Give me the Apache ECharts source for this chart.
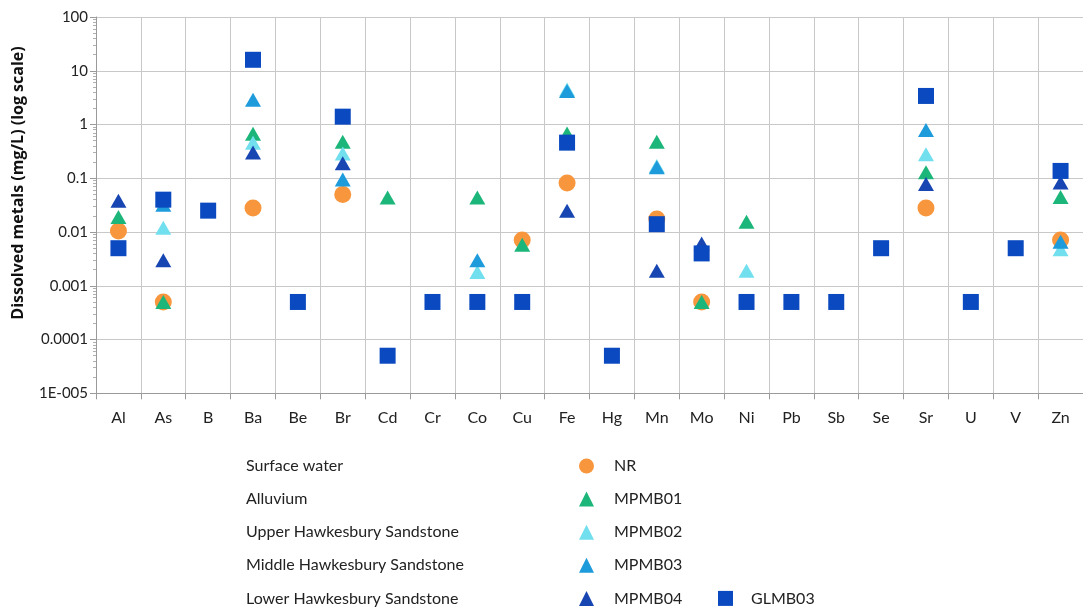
<!DOCTYPE html>
<html><head><meta charset="utf-8">
<script src="https://cdn.jsdelivr.net/npm/echarts@6/dist/echarts.min.js"></script>
<style>html,body{margin:0;padding:0;background:#fff;}#c{width:1083px;height:612px;}</style>
</head><body><div id="c"></div>
<script>
const categories = ['Al','As','B','Ba','Be','Br','Cd','Cr','Co','Cu','Fe','Hg','Mn','Mo','Ni','Pb','Sb','Se','Sr','U','V','Zn'];
const yTickLabels = ['1E-005','0.0001','0.001','0.01','0.1','1','10','100'];
const seriesNames = ['NR','MPMB01','MPMB02','MPMB03','MPMB04','GLMB03'];
const groupNames = ['Surface water','Alluvium','Upper Hawkesbury Sandstone','Middle Hawkesbury Sandstone','Lower Hawkesbury Sandstone'];
const _ = null;
//                 Al     As      B      Ba    Be      Br     Cd       Cr      Co      Cu      Fe     Hg       Mn      Mo      Ni      Pb      Sb      Se     Sr     U       V      Zn
const NR     = [0.0105, 0.0005, _,     0.028, _,      0.05,  _,       _,      _,      0.0071, 0.082, _,       0.0175, 0.0005, _,      _,      _,      _,     0.028, _,      _,     0.0071];
const MPMB01 = [0.019,  0.0005, _,     0.67,  _,      0.48,  0.044,   _,      0.044,  0.0058, 0.68,  _,       0.48,   0.0005, 0.0155, _,      _,      _,     0.13,  _,      _,     0.045];
const MPMB02 = [_,      0.012,  _,     0.46,  _,      0.29,  _,       _,      0.0018, _,      4.5,   _,       0.17,   _,      0.0019, _,      _,      _,     0.28,  _,      _,     0.0048];
const MPMB03 = [_,      0.032,  _,     2.9,   _,      0.095, _,       _,      0.003,  _,      4.2,   _,       0.16,   _,      _,      _,      _,      _,     0.79,  _,      _,     0.0066];
const MPMB04 = [0.038,  0.003,  _,     0.30,  _,      0.19,  _,       _,      _,      _,      0.025, _,       0.0019, 0.0061, _,      _,      _,      _,     0.078, _,      _,     0.083];
const GLMB03 = [0.005,  0.04,   0.025, 16,    0.0005, 1.4,   0.00005, 0.0005, 0.0005, 0.0005, 0.46,  0.00005, 0.014,  0.004,  0.0005, 0.0005, 0.0005, 0.005, 3.4,   0.0005, 0.005, 0.137];

const seriesData = [NR, MPMB01, MPMB02, MPMB03, MPMB04, GLMB03];
const colors = ['#F7963C','#1DB67A','#72DFEE','#1E9BDB','#1746B2','#0A49BF'];
const symbols = ['circle','triangle','triangle','triangle','triangle','rect'];
const sizes = [[17,17],[16,14],[16,14],[16,14],[16,14],[16,16]];

const FONT = 'Lato, "DejaVu Sans", sans-serif';
const chart = echarts.init(document.getElementById('c'));

const series = seriesNames.map((n,i)=>({
  name:n, type:'scatter', symbol:symbols[i], symbolSize:sizes[i],
  itemStyle:{color:colors[i], opacity:1},
  data: seriesData[i].map((v,j)=> v==null? null : [categories[j], v]),
  z: 2+i
}));

const graphics = groupNames.map((g,i)=>({
  type:'text', left:246, top:458+i*33.1,
  style:{text:g, font:'16px '+FONT, fill:'#222'}
}));
graphics.push({
  type:'text', x:18, y:183, rotation:Math.PI/2,
  style:{text:'Dissolved metals (mg/L) (log scale)', font:'bold 16px "Open Sans", '+FONT, fill:'#111', align:'center', verticalAlign:'middle'}
});

const legendTops = [453, 486.1, 519.2, 552.3, 585.4];
const legends = seriesNames.slice(0,5).map((n,i)=>({
  data:[n], orient:'vertical', left:574, top:legendTops[i], itemWidth:15, itemHeight:15,
  textStyle:{fontSize:16, color:'#222', fontFamily:FONT, padding:[0,0,0,15]}, selectedMode:false
}));
legends.push({data:['GLMB03'], orient:'vertical', left:713, top:585.4, itemWidth:15, itemHeight:15,
  textStyle:{fontSize:16, color:'#222', fontFamily:FONT, padding:[0,0,0,13]}, selectedMode:false});

chart.setOption({
  animation:false,
  textStyle:{fontFamily:FONT},
  grid:{left:96, top:17, right:-11, bottom:218.7, containLabel:false},
  xAxis:{
    type:'category', data:categories, boundaryGap:true,
    axisLine:{lineStyle:{color:'#9a9a9a'}},
    axisTick:{show:true, length:6, lineStyle:{color:'#9a9a9a'}},
    axisLabel:{fontSize:16, color:'#222', margin:17, fontFamily:FONT, interval:0},
    splitLine:{show:true, interval:0, lineStyle:{color:'#c8c8c8'}}
  },
  yAxis:{
    type:'log', logBase:10, min:0.00001, max:100,
    axisLine:{show:true, lineStyle:{color:'#9a9a9a'}},
    axisTick:{show:true, length:6, lineStyle:{color:'#9a9a9a'}},
    minorTick:{show:true, splitNumber:9, length:3, lineStyle:{color:'#b0b0b0'}},
    axisLabel:{fontSize:15, color:'#222', margin:8, fontFamily:FONT,
      formatter:(v)=>yTickLabels[Math.round(Math.log10(v))+5]},
    splitLine:{show:true, lineStyle:{color:'#c8c8c8'}}
  },
  legend:legends,
  graphic:graphics,
  series:series
});
</script></body></html>
